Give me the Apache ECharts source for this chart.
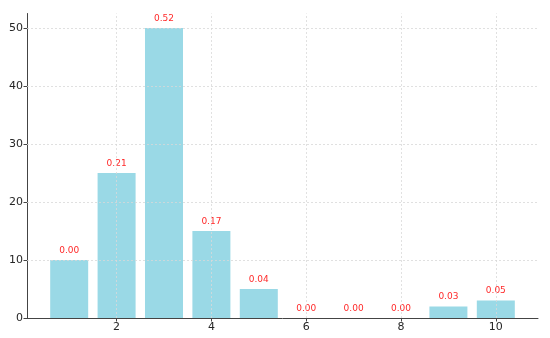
<!DOCTYPE html>
<html><head><meta charset="utf-8">
<script src="https://cdn.jsdelivr.net/npm/echarts@6/dist/echarts.min.js"></script>
<style>html,body{margin:0;padding:0;background:#fff}#c{width:550px;height:338px}</style>
</head><body><div id="c"></div>
<script>
const positions = [1,2,3,4,5,6,7,8,9,10];
const counts = [10,25,50,15,5,0,0,0,2,3];
const barLabels = ["0.00","0.21","0.52","0.17","0.04","0.00","0.00","0.00","0.03","0.05"];
const xTicks = [2,4,6,8,10];
const yTicks = [0,10,20,30,40,50];

const chart = echarts.init(document.getElementById('c'), null, {renderer:'canvas'});
const font = 'DejaVu Sans';
chart.setOption({
  animation:false,
  grid:{left:27,right:12,top:13.5,bottom:20,containLabel:false},
  xAxis:{
    type:'value', min:0.11, max:10.89,
    axisLine:{show:true,lineStyle:{color:'#444',width:1}},
    axisTick:{show:true,customValues:xTicks,length:3.5,lineStyle:{color:'#444'}},
    axisLabel:{customValues:xTicks,color:'#262626',fontFamily:font,fontSize:11,margin:4},
    splitLine:{show:false}
  },
  yAxis:{
    type:'value', min:0, max:52.5,
    axisLine:{show:true,lineStyle:{color:'#444',width:1}},
    axisTick:{show:true,customValues:yTicks,length:3.5,lineStyle:{color:'#444'}},
    axisLabel:{customValues:yTicks,color:'#262626',fontFamily:font,fontSize:11,margin:4},
    splitLine:{show:false}
  },
  series:[{
    type:'bar',
    barWidth:38,
    itemStyle:{color:'#9AD9E6'},
    data:positions.map((p,i)=>[p,counts[i]]),
    label:{show:true,position:'top',distance:5,color:'#ff2a2a',fontFamily:font,fontSize:9,
      formatter:(p)=>barLabels[p.dataIndex]},
    markLine:{
      silent:true,symbol:'none',label:{show:false},
      lineStyle:{color:'#d9d9d9',type:[2,2],width:0.8},
      data:[...xTicks.map(v=>({xAxis:v})),...yTicks.slice(1).map(v=>({yAxis:v}))]
    },
    z:2
  }]
});
</script></body></html>
